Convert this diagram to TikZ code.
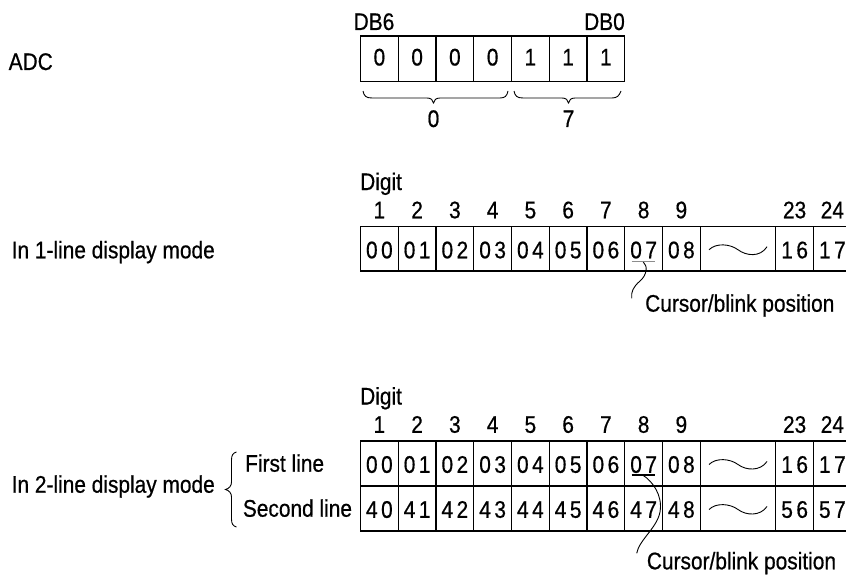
\documentclass[tikz,border=0pt]{standalone}
\usepackage{fontspec}
\setmainfont{Liberation Sans}[FakeStretch=0.87,FakeBold=0.6]
\newcommand\twod[2]{#1\kern3.5pt#2}
\begin{document}
\begin{tikzpicture}[x=1pt,y=-1pt,
  font=\fontsize{24}{28}\selectfont,
  txt/.style={inner sep=0pt, anchor=base},
  txtw/.style={inner sep=0pt, anchor=base west},
  txte/.style={inner sep=0pt, anchor=base east},
  boxline/.style={line width=1.2pt, line cap=rect},
  curve/.style={line width=0.9pt}]
\useasboundingbox (0,0) rectangle (846,575);

% ---------------- ADC ----------------
\node[txtw] (adc) at (8.5,70) {ADC};
\node[txtw] (db6) at (353.5,30) {DB6};
\node[txte] (db0) at (625,30) {DB0};
\draw[boxline] (360.5,36) rectangle (624.75,81.5);
\foreach \i in {1,...,6} \draw[boxline] (360.5+\i*37.75,36) -- (360.5+\i*37.75,81.5);
\foreach \v [count=\i from 0] in {0,0,0,0,1,1,1}
  \node[txt] (bit\i) at (360.5+\i*37.75+18.875,65.5) {\v};
% braces
\draw[curve] (363,91) .. controls (364,96) and (366,98) .. (372,98) -- (427,98)
  .. controls (431,98) and (433,100) .. (433.5,103)
  .. controls (434,100) and (436,98) .. (440,98) -- (500,98)
  .. controls (505,98) and (507,96) .. (508,91);
\draw[curve] (514,91) .. controls (515,96) and (517,98) .. (523,98) -- (562,98)
  .. controls (566,98) and (568,100) .. (568.5,103)
  .. controls (569,100) and (571,98) .. (575,98) -- (612,98)
  .. controls (617,98) and (619,96) .. (621,91);
\node[txt] (hi) at (433.5,127) {0};
\node[txt] (lo) at (568.5,127) {7};

% ---------------- 1-line mode ----------------
\node[txtw] (mode1) at (11.5,258.3) {In 1-line display mode};
\node[txtw] (dig1) at (360,190) {Digit};
\foreach \d [count=\i from 0] in {1,...,9}
  \node[txt] (n1-\i) at (360.5+\i*37.75+18.875,218.3) {\d};
\node[txt] (n1-23) at (360.5+11.5*37.75,218.3) {23};
\node[txt] (n1-24) at (360.5+12.5*37.75,218.3) {24};
\draw[boxline] (846,226.5) -- (360.5,226.5) -- (360.5,271) -- (846,271);
\foreach \i in {1,...,9,11,12} \draw[boxline] (360.5+\i*37.75,226.5) -- (360.5+\i*37.75,271);
\foreach \a/\b [count=\i from 0] in {0/0,0/1,0/2,0/3,0/4,0/5,0/6,0/7,0/8}
  \node[txt] (r1c\i) at (360.5+\i*37.75+18.875,258.3) {\twod{\a}{\b}};
\node[txt] (r1c11) at (360.5+11.5*37.75,258.3) {\twod{1}{6}};
\node[txt] (r1c12) at (360.5+12.5*37.75,258.3) {\twod{1}{7}};
\draw[curve] (709,249.75) .. controls (716,242.75) and (730,243.75) .. (738,249.75)
  .. controls (746,255.75) and (760,257.75) .. (767,246.75);
% cursor
\draw[line width=1.1pt, black!45] (631.7,261.5) -- (655,261.5);
\coordinate (u1) at (643.3,262);
\coordinate (e1) at (631.7,298.3);
\draw[curve] (u1) .. controls (648,266) and (647,275) .. (640,281)
  .. controls (633,287) and (631,292) .. (e1);
\node[txtw] (cur1) at (645,311.7) {Cursor/blink position};

% ---------------- 2-line mode ----------------
\node[txtw] (mode2) at (11.5,492.7) {In 2-line display mode};
\draw[curve] (236.5,452) .. controls (233,453) and (231.5,455) .. (231.5,460) -- (231.5,482)
  .. controls (231.5,486) and (229,488.5) .. (225.5,489.5)
  .. controls (229,490.5) and (231.5,493) .. (231.5,497) -- (231.5,519)
  .. controls (231.5,524) and (233,526) .. (236.5,527);
\node[txtw] (first) at (245,471.7) {First line};
\node[txtw] (second) at (242.7,516.7) {Second line};
\node[txtw] (dig2) at (360,404.5) {Digit};
\foreach \d [count=\i from 0] in {1,...,9}
  \node[txt] (n2-\i) at (360.5+\i*37.75+18.875,432.8) {\d};
\node[txt] (n2-23) at (360.5+11.5*37.75,432.8) {23};
\node[txt] (n2-24) at (360.5+12.5*37.75,432.8) {24};
\draw[boxline] (846,441) -- (360.5,441) -- (360.5,531) -- (846,531);
\draw[boxline] (360.5,486) -- (846,486);
\foreach \i in {1,...,9,11,12} \draw[boxline] (360.5+\i*37.75,441) -- (360.5+\i*37.75,531);
\foreach \a/\b [count=\i from 0] in {0/0,0/1,0/2,0/3,0/4,0/5,0/6,0/7,0/8}
  \node[txt] (r2c\i) at (360.5+\i*37.75+18.875,472.8) {\twod{\a}{\b}};
\node[txt] (r2c11) at (360.5+11.5*37.75,472.8) {\twod{1}{6}};
\node[txt] (r2c12) at (360.5+12.5*37.75,472.8) {\twod{1}{7}};
\foreach \a/\b [count=\i from 0] in {4/0,4/1,4/2,4/3,4/4,4/5,4/6,4/7,4/8}
  \node[txt] (r3c\i) at (360.5+\i*37.75+18.875,517.8) {\twod{\a}{\b}};
\node[txt] (r3c11) at (360.5+11.5*37.75,517.8) {\twod{5}{6}};
\node[txt] (r3c12) at (360.5+12.5*37.75,517.8) {\twod{5}{7}};
\foreach \yc in {463.5,508.5}
  \draw[curve] (709,\yc+1) .. controls (716,\yc-6) and (730,\yc-5) .. (738,\yc+1)
    .. controls (746,\yc+7) and (760,\yc+8) .. (767,\yc-2);
% cursor
\draw[line width=1.1pt] (631.7,475) -- (655,475);
\coordinate (u2) at (643.3,475.5);
\coordinate (e2) at (636.7,553.3);
\draw[curve] (u2) .. controls (652,481) and (663,495) .. (660,512)
  .. controls (657,528) and (639,540) .. (e2);
\node[txtw] (cur2) at (646.7,569.3) {Cursor/blink position};
\end{tikzpicture}
\end{document}
